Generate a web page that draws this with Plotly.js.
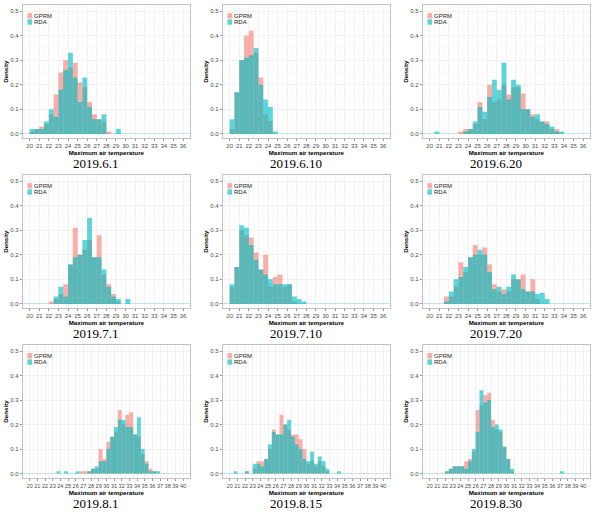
<!DOCTYPE html>
<html><head><meta charset="utf-8">
<script src="https://cdn.plot.ly/plotly-3.0.1.min.js"></script>
<style>html,body{margin:0;padding:0;background:#fff}#chart{width:601px;height:515px}</style>
</head><body><div id="chart"></div>
<script>
// ---- data (density, binwidth 0.5, bins given by left edge) ----
const dates = ['2019.6.1','2019.6.10','2019.6.20','2019.7.1','2019.7.10','2019.7.20','2019.8.1','2019.8.15','2019.8.30'];
const seriesNames = ['GPRM','RDA'];
const xTitle = 'Maximum air temperature';
const yTitle = 'Density';
const xMax = [36,36,36,36,36,36,40,40,40];

const bins_0601 = [20,20.5,21,21.5,22,22.5,23,23.5,24,24.5,25,25.5,26,26.5,27,27.5,28,28.5,29];
const gprm_0601 = [0.01,0.02,0.03,0.04,0.08,0.16,0.25,0.30,0.27,0.29,0.21,0.19,0.13,0.08,0.06,0.05,0.01,0,0];
const rda_0601  = [0.02,0.02,0.02,0.05,0.10,0.07,0.18,0.26,0.33,0.23,0.13,0.23,0.11,0.06,0.06,0.08,0,0,0.02];

const bins_0610 = [20,20.5,21,21.5,22,22.5,23,23.5,24,24.5];
const gprm_0610 = [0.02,0.17,0.30,0.40,0.42,0.33,0.23,0.08,0.05,0];
const rda_0610  = [0.06,0.17,0.30,0.31,0.32,0.35,0.20,0.14,0.11,0.01];

const bins_0620 = [20.5,21,21.5,22,22.5,23,23.5,24,24.5,25,25.5,26,26.5,27,27.5,28,28.5,29,29.5,30,30.5,31,31.5,32,32.5,33,33.5];
const gprm_0620 = [0,0,0,0,0,0.01,0.02,0.02,0.04,0.13,0.06,0.20,0.13,0.14,0.20,0.16,0.19,0.19,0.165,0.10,0.08,0.06,0.05,0.05,0.02,0.02,0];
const rda_0620  = [0.01,0,0,0,0,0,0.01,0.02,0.05,0.11,0.09,0.15,0.22,0.18,0.29,0.14,0.22,0.20,0.10,0.10,0.07,0.08,0.05,0.04,0.03,0.01,0.01];

const bins_0701 = [22,22.5,23,23.5,24,24.5,25,25.5,26,26.5,27,27.5,28,28.5,29,29.5,30];
const gprm_0701 = [0.01,0.02,0.04,0.08,0.16,0.31,0.20,0.22,0.26,0.19,0.28,0.12,0.08,0.04,0.01,0,0];
const rda_0701  = [0,0.03,0.07,0.03,0.16,0.19,0.20,0.26,0.35,0.19,0.19,0.14,0.07,0.03,0.02,0,0.02];

const bins_0710 = [20,20.5,21,21.5,22,22.5,23,23.5,24,24.5,25,25.5,26,26.5,27,27.5];
const gprm_0710 = [0.07,0.15,0.30,0.28,0.27,0.21,0.14,0.20,0.07,0.11,0.12,0.07,0.08,0.01,0,0];
const rda_0710  = [0.08,0.15,0.32,0.31,0.24,0.18,0.14,0.12,0.10,0.08,0.08,0.08,0.08,0.03,0.02,0.01];

const bins_0720 = [21.5,22,22.5,23,23.5,24,24.5,25,25.5,26,26.5,27,27.5,28,28.5,29,29.5,30,30.5,31,31.5,32];
const gprm_0720 = [0.03,0.03,0.07,0.17,0.13,0.19,0.24,0.20,0.23,0.16,0.08,0.05,0.06,0.05,0.10,0.10,0.12,0.05,0.10,0.02,0,0];
const rda_0720  = [0.01,0.05,0.10,0.11,0.15,0.19,0.20,0.22,0.20,0.13,0.06,0.07,0.04,0.07,0.12,0.10,0.06,0.05,0.05,0.04,0.045,0.02];

const bins_0801 = [23.5,24,24.5,25,25.5,26,26.5,27,27.5,28,28.5,29,29.5,30,30.5,31,31.5,32,32.5,33,33.5,34,34.5,35,35.5,36,36.5];
const gprm_0801 = [0,0,0,0,0,0,0.01,0.01,0.01,0.02,0.02,0.10,0.06,0.13,0.15,0.17,0.26,0.20,0.24,0.25,0.16,0.15,0.08,0.05,0.02,0.01,0];
const rda_0801  = [0.01,0,0.01,0,0,0.01,0,0,0.01,0.02,0.03,0.05,0.05,0.10,0.15,0.19,0.22,0.22,0.19,0.19,0.16,0.23,0.10,0.04,0.01,0.01,0.01];

const bins_0815 = [20.5,21,21.5,22,22.5,23,23.5,24,24.5,25,25.5,26,26.5,27,27.5,28,28.5,29,29.5,30,30.5,31,31.5,32,32.5,33,33.5,34];
const gprm_0815 = [0,0,0,0.01,0,0.02,0.05,0.05,0.06,0.10,0.18,0.16,0.24,0.20,0.18,0.16,0.16,0.14,0.10,0.04,0.05,0.03,0.05,0.03,0.01,0,0,0];
const rda_0815  = [0.01,0,0,0.01,0,0.04,0.04,0.03,0.06,0.12,0.17,0.16,0.16,0.20,0.22,0.15,0.12,0.10,0.06,0.05,0.09,0.04,0.07,0.05,0.02,0,0,0.01];

const bins_0830 = [22,22.5,23,23.5,24,24.5,25,25.5,26,26.5,27,27.5,28,28.5,29,29.5,30,30.5,31,31.5,32,32.5,33,33.5,34,34.5,35,35.5,36,36.5,37];
const gprm_0830 = [0.01,0.02,0.03,0.03,0.03,0.05,0.06,0.09,0.26,0.28,0.32,0.33,0.22,0.18,0.17,0.11,0.06,0.01,0,0,0,0,0,0,0,0,0,0,0,0,0];
const rda_0830  = [0.01,0.02,0.03,0.03,0.03,0.02,0.05,0.10,0.17,0.34,0.29,0.30,0.19,0.20,0.18,0.11,0.06,0.02,0,0,0,0,0,0,0,0,0,0,0,0,0.01];

const panels = [
  [bins_0601,gprm_0601,rda_0601],[bins_0610,gprm_0610,rda_0610],[bins_0620,gprm_0620,rda_0620],
  [bins_0701,gprm_0701,rda_0701],[bins_0710,gprm_0710,rda_0710],[bins_0720,gprm_0720,rda_0720],
  [bins_0801,gprm_0801,rda_0801],[bins_0815,gprm_0815,rda_0815],[bins_0830,gprm_0830,rda_0830]
];

// ---- layout geometry (pixels) ----
const W = 601, H = 515;
const colX = [[22.7,190],[222.7,390],[422.7,590]];
const rowY = [[5,138.3],[175,308.3],[345,478]];
const dateY = [163,333,503];
const dateXoff = 96;
const colors = ['rgba(248,118,109,0.6)','rgba(0,191,196,0.64)'];

const traces = [];
const layout = {
  width: W, height: H, margin: {l:0,r:0,t:0,b:0},
  paper_bgcolor: '#fff', plot_bgcolor: '#fff',
  barmode: 'overlay', showlegend: false, hovermode: false,
  font: {family: 'Liberation Sans, Arial, sans-serif', size: 6, color: '#4D4D4D'},
  annotations: [], shapes: []
};

panels.forEach((p, i) => {
  const r = Math.floor(i/3), c = i%3;
  const n = i === 0 ? '' : String(i+1);
  const xa = 'x'+n, ya = 'y'+n;
  [p[1], p[2]].forEach((vals, s) => {
    traces.push({
      type: 'bar', name: seriesNames[s], x: p[0], y: vals,
      width: 0.5, offset: 0, xaxis: xa, yaxis: ya,
      marker: {color: colors[s], line: {width: 0}}
    });
  });
  const xmax = xMax[i];
  const pad = (xmax - 20) * 0.0455;
  layout['xaxis'+n] = {
    domain: [colX[c][0]/W, colX[c][1]/W], anchor: ya,
    range: [20 - pad, xmax + pad], tick0: 20, dtick: 1, tickangle: 0,
    showgrid: true, gridcolor: '#EBEBEB', gridwidth: 0.7,
    minor: {dtick: 0.5, showgrid: true, gridcolor: '#F5F5F5', gridwidth: 0.5},
    showline: true, mirror: true, linecolor: '#B3B3B3', linewidth: 0.8,
    ticks: 'outside', ticklen: 2, tickwidth: 0.6, tickcolor: '#4D4D4D',
    tickfont: {size: xmax > 36 ? 5.6 : 6, color: '#4D4D4D'}, zeroline: false,
    title: {text: '<b>'+xTitle+'</b>', font: {size: 6.2, color: '#000'}, standoff: 0}
  };
  layout['yaxis'+n] = {
    domain: [1 - rowY[r][1]/H, 1 - rowY[r][0]/H], anchor: xa,
    range: [-0.018, 0.525], tick0: 0, dtick: 0.1, tickformat: '.1f',
    showgrid: true, gridcolor: '#EBEBEB', gridwidth: 0.7,
    minor: {dtick: 0.05, showgrid: true, gridcolor: '#F5F5F5', gridwidth: 0.5},
    showline: true, mirror: true, linecolor: '#B3B3B3', linewidth: 0.8,
    ticks: 'outside', ticklen: 2, tickwidth: 0.6, tickcolor: '#4D4D4D',
    tickfont: {size: 6, color: '#4D4D4D'},
    zeroline: true, zerolinecolor: 'rgba(120,200,200,0.55)', zerolinewidth: 0.8,
    title: {text: '<b>'+yTitle+'</b>', font: {size: 6.2, color: '#000'}, standoff: 1}
  };
  // legend keys + labels
  seriesNames.forEach((nm, s) => {
    layout.shapes.push({
      type: 'rect', xref: xa+' domain', yref: ya+' domain',
      x0: 0.028, x1: 0.056, y0: 0.899 - s*0.047, y1: 0.939 - s*0.047,
      fillcolor: colors[s], line: {width: 0}, layer: 'above'
    });
    layout.annotations.push({
      text: nm, xref: xa+' domain', yref: ya+' domain',
      x: 0.056, y: 0.92 - s*0.047, xanchor: 'left', yanchor: 'middle', showarrow: false,
      font: {size: 6, color: '#1A1A1A'}
    });
  });
  // date caption
  layout.annotations.push({
    text: dates[i], xref: 'paper', yref: 'paper',
    x: (c*200 + dateXoff)/W, y: 1 - dateY[r]/H, xanchor: 'center', yanchor: 'middle',
    showarrow: false, font: {family: 'Liberation Serif, Times New Roman, serif', size: 13, color: '#000'}
  });
});

Plotly.newPlot('chart', traces, layout, {staticPlot: true, displayModeBar: false});
</script></body></html>
